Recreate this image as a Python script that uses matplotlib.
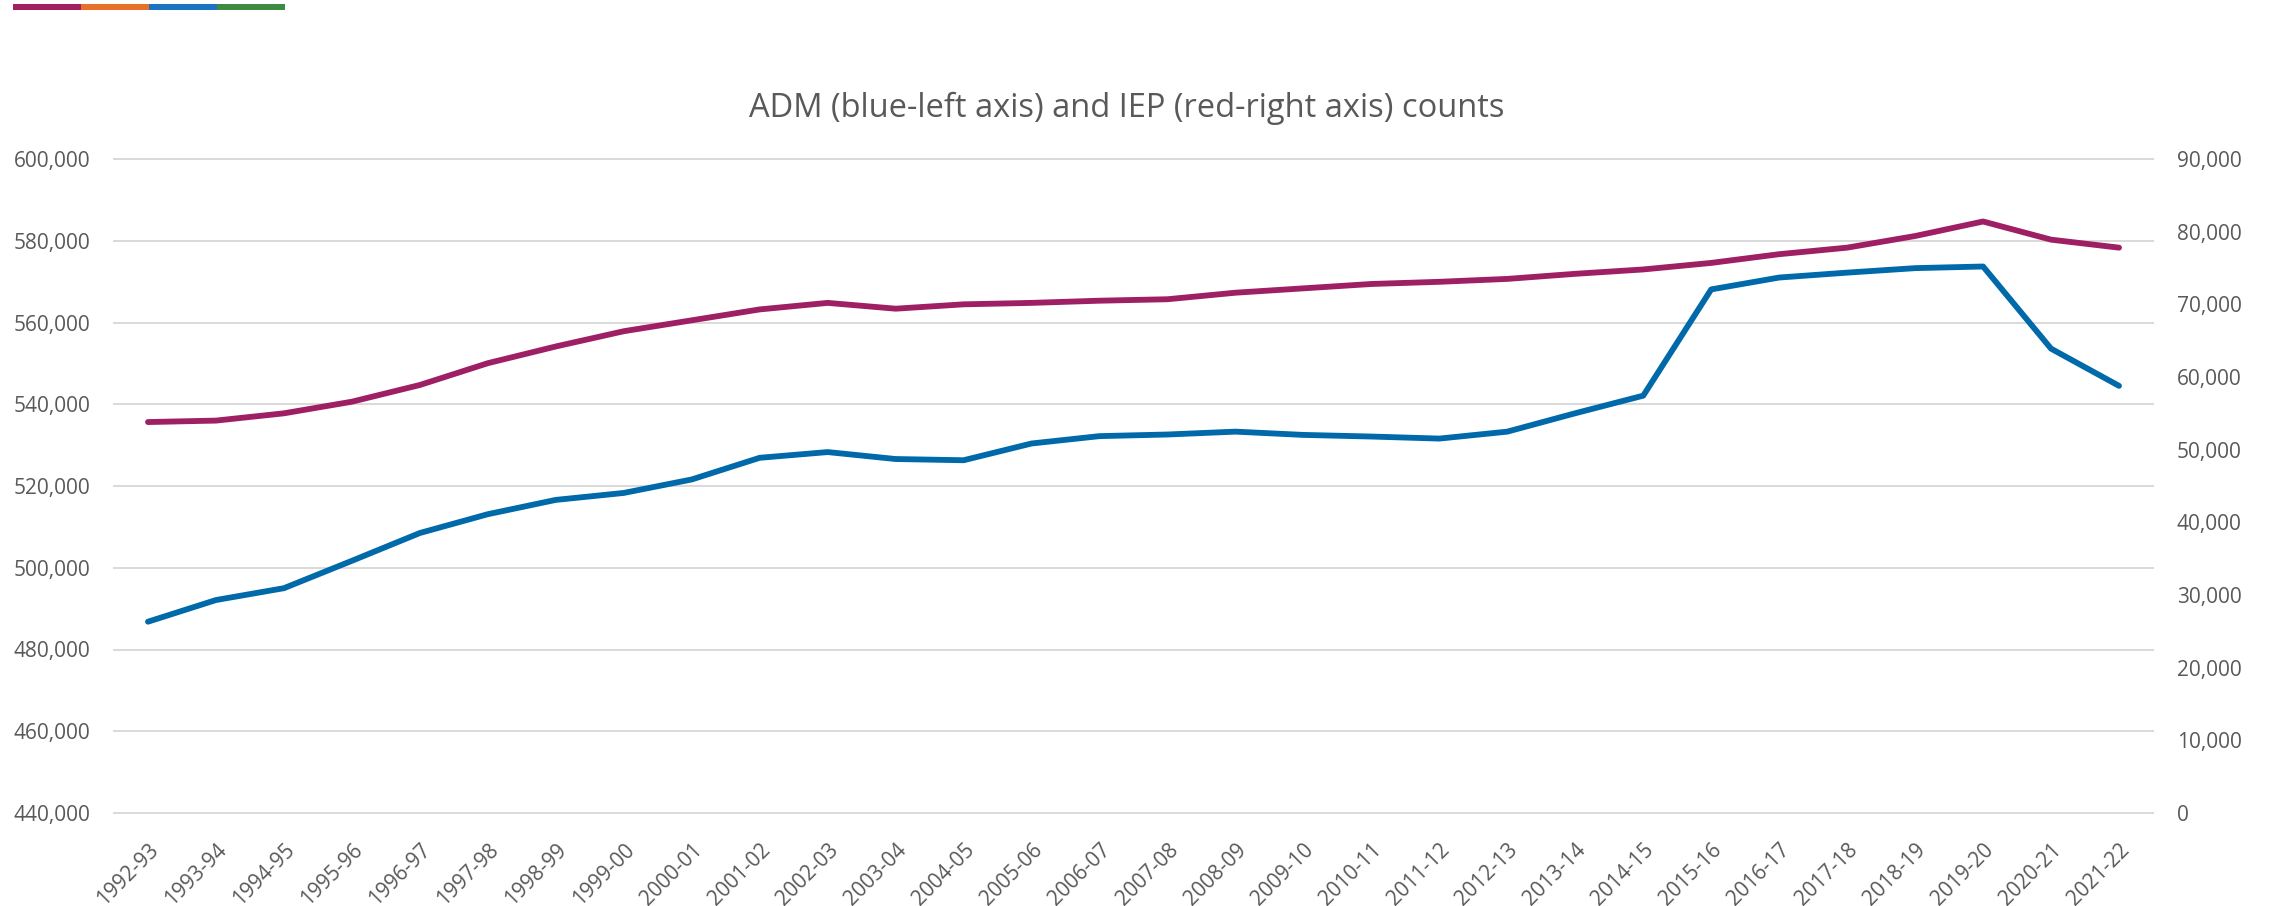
import matplotlib
matplotlib.use("Agg")
import matplotlib.pyplot as plt
import matplotlib.patches as mpatches
from matplotlib.ticker import FuncFormatter, MultipleLocator

# ── Data ───────────────────────────────────────────────────────────────────────
YEARS = [
    "1992-93", "1993-94", "1994-95", "1995-96", "1996-97", "1997-98",
    "1998-99", "1999-00", "2000-01", "2001-02", "2002-03", "2003-04",
    "2004-05", "2005-06", "2006-07", "2007-08", "2008-09", "2009-10",
    "2010-11", "2011-12", "2012-13", "2013-14", "2014-15", "2015-16",
    "2016-17", "2017-18", "2018-19", "2019-20", "2020-21", "2021-22",
]
ADM = [
    486800, 492100, 495000, 501700, 508500, 513100,
    516600, 518300, 521600, 526900, 528300, 526600,
    526300, 530400, 532200, 532600, 533300, 532500,
    532100, 531600, 533300, 537800, 542100, 568100,
    571000, 572200, 573300, 573700, 553600, 544500,
]
IEP = [
    53800, 54000, 55000, 56600, 58900, 61900,
    64200, 66300, 67800, 69300, 70200, 69400,
    70000, 70200, 70500, 70700, 71600, 72200,
    72800, 73100, 73500, 74200, 74800, 75700,
    76900, 77800, 79400, 81400, 78900, 77800,
]

BLUE = "#0069AA"
RED = "#9E1F63"
GREY = "#595959"
GRID = "#D9D9D9"
FONT = "Open Sans"

plt.rcParams["font.family"] = [FONT, "DejaVu Sans"]

fig = plt.figure(figsize=(22.69, 9.06), dpi=100)
fig.patch.set_facecolor("white")

# ── Coloured strip at the top left ────────────────────────────────────────────
strip_colors = ["#A3205F", "#E8712A", "#1A74C2", "#3C8B40"]
for i, c in enumerate(strip_colors):
    fig.patches.append(mpatches.Rectangle(
        ((13 + 68 * i) / 2269, 1 - 10 / 906), 68 / 2269, 6 / 906,
        transform=fig.transFigure, facecolor=c, edgecolor="none"))

ax = fig.add_axes([114 / 2269, 1 - 813 / 906, 2039 / 2269, 654 / 906])
ax2 = ax.twinx()

x = list(range(len(YEARS)))
ax.plot(x, ADM, color=BLUE, lw=4.2, solid_capstyle="round",
        solid_joinstyle="round", zorder=3)
ax2.plot(x, IEP, color=RED, lw=4.2, solid_capstyle="round",
         solid_joinstyle="round", zorder=3)

ax.set_xlim(-0.5, len(YEARS) - 0.5)
ax.set_ylim(440000, 600000)
ax2.set_ylim(0, 90000)
ax.yaxis.set_major_locator(MultipleLocator(20000))
ax2.yaxis.set_major_locator(MultipleLocator(10000))

fmt = FuncFormatter(lambda v, p: f"{v:,.0f}")
ax.yaxis.set_major_formatter(fmt)
ax2.yaxis.set_major_formatter(fmt)

ax.set_xticks(x)
ax.set_xticklabels(YEARS, rotation=45, ha="right", va="top",
                   rotation_mode="anchor")

ax.yaxis.grid(True, color=GRID, linewidth=1.4)
ax.set_axisbelow(True)
for gl in ax.get_ygridlines():
    gl.set_clip_on(False)

for a in (ax, ax2):
    for s in a.spines.values():
        s.set_visible(False)
ax.tick_params(axis="y", length=0, pad=17, labelsize=15, labelcolor=GREY)
ax.tick_params(axis="x", length=0, pad=19, labelsize=15, labelcolor=GREY)
ax2.tick_params(axis="y", length=0, pad=17, labelsize=15, labelcolor=GREY)

fig.text(1127 / 2269, 1 - 108 / 906,
         "ADM (blue-left axis) and IEP (red-right axis) counts",
         ha="center", va="center", fontsize=23.5, color=GREY)

plt.savefig("out.png", dpi=100, facecolor="white")
